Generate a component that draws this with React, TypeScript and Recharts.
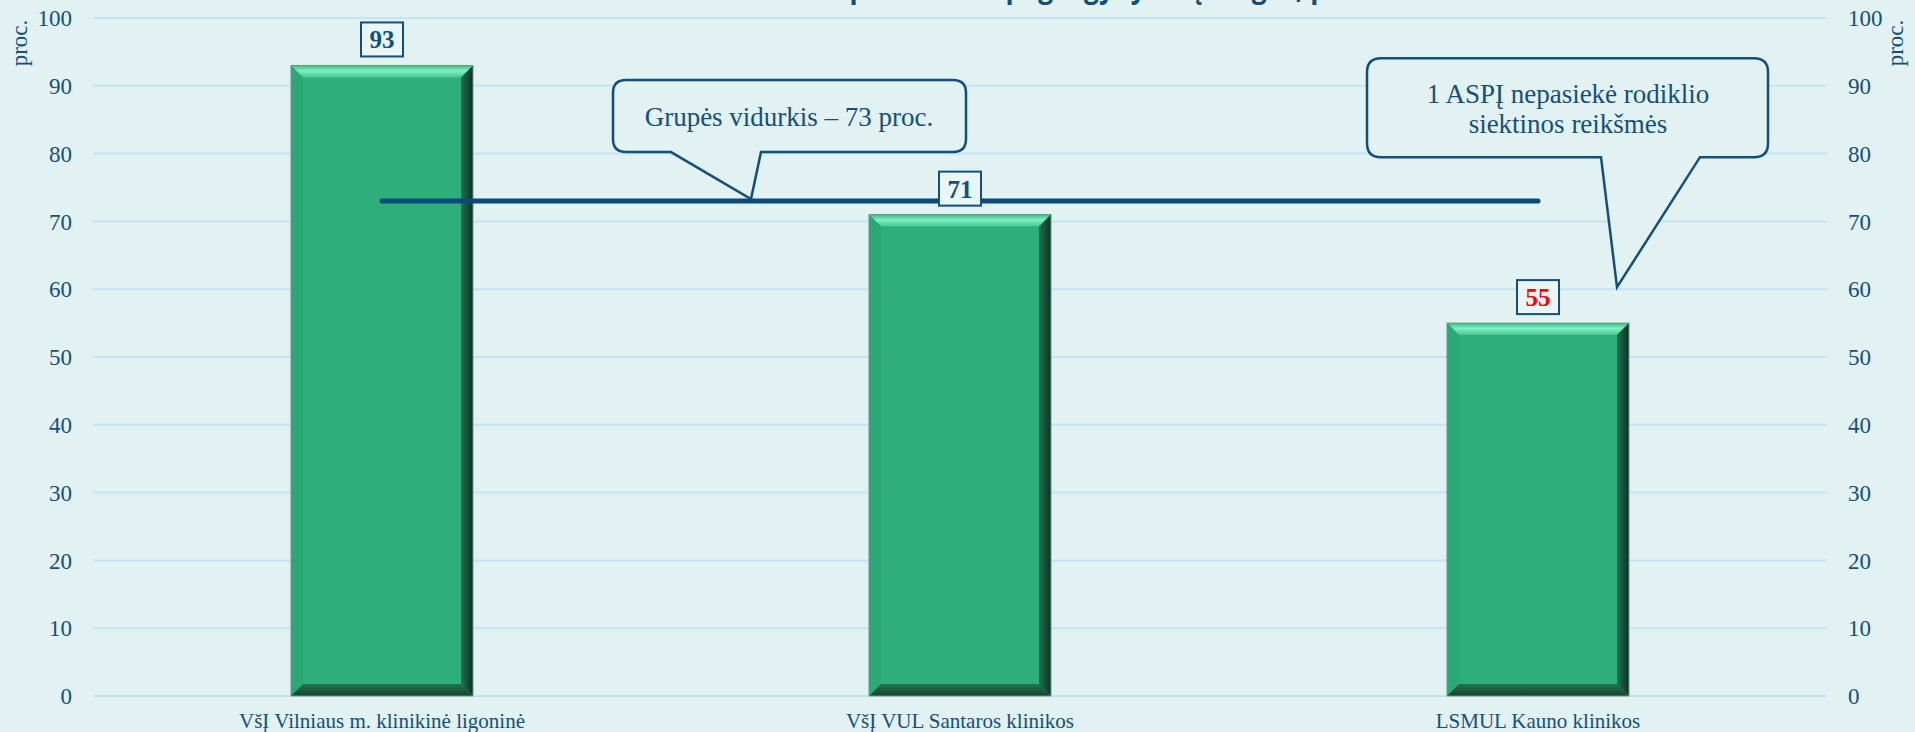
import React from 'react';
import {
  ComposedChart,
  Bar,
  Line,
  XAxis,
  YAxis,
  CartesianGrid,
  LabelList,
  ReferenceDot,
  Customized,
} from 'recharts';

const categories = [
  'VšĮ Vilniaus m. klinikinė ligoninė',
  'VšĮ VUL Santaros klinikos',
  'LSMUL Kauno klinikos',
];
const values = [93, 71, 55];
const belowTarget = [false, false, true];
const groupAverage = 73;
const targetValue = 60;
const yTicks = [0, 10, 20, 30, 40, 50, 60, 70, 80, 90, 100];

const chartTitle = 'Rodiklio siektinos reikšmės pasiekimas pagal gydymo įstaigas, proc.';
const averageText = 'Grupės vidurkis – 73 proc.';
const noteLines = ['1 ASPĮ nepasiekė rodiklio', 'siektinos reikšmės'];

const data = categories.map((name, i) => ({
  name,
  value: values[i],
  avg: groupAverage,
  low: belowTarget[i],
}));

const BG = '#E2F1F2';
const BLUE = '#134F7E';
const SERIF = '"Liberation Serif", "Times New Roman", serif';

const BevelBar = (props: any) => {
  const { x, y, width: w, height: h } = props;
  if (!h || h <= 0) return null;
  const b = Math.min(12, h / 2);
  return (
    <g>
      <rect x={x} y={y} width={w} height={h} fill="#2DAE7B" />
      <polygon points={`${x},${y} ${x + w},${y} ${x + w - b},${y + b} ${x + b},${y + b}`} fill="url(#bevelTop)" />
      <polygon points={`${x},${y} ${x + b},${y + b} ${x + b},${y + h - b} ${x},${y + h}`} fill="#2CA876" />
      <polygon points={`${x + w},${y} ${x + w},${y + h} ${x + w - b},${y + h - b} ${x + w - b},${y + b}`} fill="url(#bevelRight)" />
      <polygon points={`${x},${y + h} ${x + b},${y + h - b} ${x + w - b},${y + h - b} ${x + w},${y + h}`} fill="url(#bevelBottom)" />
      <rect x={x} y={y} width={w} height={h} fill="none" stroke="#6A9886" strokeWidth={1} />
    </g>
  );
};

const ValueBox = (props: any) => {
  const { x, y, value, index } = props;
  const bw = 42;
  const bh = 34;
  const low = data[index]?.low;
  return (
    <g>
      <rect x={x - bw / 2} y={y - 9 - bh} width={bw} height={bh} fill="#EAF5F6" stroke={BLUE} strokeWidth={2} />
      <text
        x={x}
        y={y - 9 - bh / 2 + 9}
        textAnchor="middle"
        fontFamily={SERIF}
        fontWeight="bold"
        fontSize={25}
        fill={low ? '#FF0000' : BLUE}
      >
        {value}
      </text>
    </g>
  );
};

const calloutPath = (l: number, t: number, r: number, b: number, rad: number, baseL: number, baseR: number, tipX: number, tipY: number) =>
  `M${l + rad},${t} H${r - rad} Q${r},${t} ${r},${t + rad} V${b - rad} Q${r},${b} ${r - rad},${b} H${baseR} L${tipX},${tipY} L${baseL},${b} H${l + rad} Q${l},${b} ${l},${b - rad} V${t + rad} Q${l},${t} ${l + rad},${t} Z`;

const AverageCallout = (props: any) => {
  const { cx, cy } = props;
  return (
    <g>
      <path
        d={calloutPath(cx - 347, cy - 121, cx + 6, cy - 49, 13, cx - 289, cx - 199, cx - 209, cy - 2)}
        fill={BG}
        stroke={BLUE}
        strokeWidth={2.5}
      />
      <text x={cx - 171} y={cy - 75} textAnchor="middle" fontFamily={SERIF} fontSize={27} fill={BLUE}>
        {averageText}
      </text>
    </g>
  );
};

const NoteCallout = (props: any) => {
  const { cx, cy } = props;
  return (
    <g>
      <path
        d={calloutPath(cx - 171, cy - 231, cx + 230, cy - 132, 14, cx + 63, cx + 162, cx + 79, cy - 2)}
        fill={BG}
        stroke={BLUE}
        strokeWidth={2.5}
      />
      {noteLines.map((ln, i) => (
        <text key={i} x={cx + 30} y={cy - 186 + i * 30} textAnchor="middle" fontFamily={SERIF} fontSize={27} fill={BLUE}>
          {ln}
        </text>
      ))}
    </g>
  );
};

const UnitLabel = (props: any) => {
  const { viewBox, side } = props;
  const vb = viewBox || { x: 0, y: 18, width: 93 };
  const lx = side === 'left' ? vb.x + 27 : vb.x + 76;
  const ly = vb.y + 25;
  return (
    <text x={lx} y={ly} transform={`rotate(-90 ${lx} ${ly})`} textAnchor="middle" fontFamily={SERIF} fontSize={23} fill={BLUE}>
      proc.
    </text>
  );
};

// the title sits above the top edge, only its lower part shows
const Title = () => (
  <text
    x={929}
    y={-2}
    textAnchor="middle"
    fontFamily='"Open Sans", "Noto Sans", sans-serif'
    fontWeight="bold"
    fontSize={30}
    fill={BLUE}
    textLength={895}
    lengthAdjust="spacingAndGlyphs"
  >
    {chartTitle}
  </text>
);

const tickStyle = { fill: BLUE, fontSize: 23, fontFamily: SERIF };

export default function App() {
  return (
    <div style={{ position: 'absolute', left: 0, top: 0, width: 1915, height: 732, background: BG }}>
      <ComposedChart width={1915} height={732} data={data} margin={{ top: 18, right: 0, bottom: 0, left: 0 }}>
        <defs>
          <linearGradient id="bevelTop" x1="0" y1="0" x2="0" y2="1">
            <stop offset="0%" stopColor="#3DBE8A" />
            <stop offset="45%" stopColor="#7EF0C2" />
            <stop offset="100%" stopColor="#45C690" />
          </linearGradient>
          <linearGradient id="bevelRight" x1="0" y1="0" x2="1" y2="0">
            <stop offset="0%" stopColor="#21724F" />
            <stop offset="100%" stopColor="#0D3123" />
          </linearGradient>
          <linearGradient id="bevelBottom" x1="0" y1="0" x2="0" y2="1">
            <stop offset="0%" stopColor="#22744F" />
            <stop offset="100%" stopColor="#14432E" />
          </linearGradient>
        </defs>
        <Customized component={Title} />
        <CartesianGrid yAxisId="left" vertical={false} stroke="#C4E3F5" strokeWidth={2} />
        <XAxis
          dataKey="name"
          axisLine={false}
          tickLine={false}
          interval={0}
          height={36}
          tickMargin={11}
          tick={{ ...tickStyle, fontSize: 21 }}
        />
        <YAxis
          yAxisId="left"
          orientation="left"
          width={93}
          domain={[0, 100]}
          ticks={yTicks}
          axisLine={false}
          tickLine={false}
          tickMargin={15}
          tick={tickStyle}
          label={<UnitLabel side="left" />}
        />
        <YAxis
          yAxisId="right"
          orientation="right"
          width={88}
          domain={[0, 100]}
          ticks={yTicks}
          axisLine={false}
          tickLine={false}
          tickMargin={15}
          tick={tickStyle}
          label={<UnitLabel side="right" />}
        />
        <Bar yAxisId="left" dataKey="value" barSize={182} shape={BevelBar} isAnimationActive={false} />
        <Line
          yAxisId="left"
          dataKey="avg"
          stroke="#0B4A7B"
          strokeWidth={5}
          strokeLinecap="round"
          dot={false}
          activeDot={false}
          isAnimationActive={false}
        />
        <Line
          yAxisId="right"
          dataKey="value"
          stroke="none"
          dot={false}
          activeDot={false}
          legendType="none"
          isAnimationActive={false}
        >
          <LabelList dataKey="value" content={ValueBox} />
        </Line>
        <ReferenceDot
          yAxisId="left"
          x={categories[1]}
          y={groupAverage}
          r={0}
          ifOverflow="visible"
          shape={AverageCallout}
        />
        <ReferenceDot
          yAxisId="left"
          x={categories[2]}
          y={targetValue}
          r={0}
          ifOverflow="visible"
          shape={NoteCallout}
        />
      </ComposedChart>
    </div>
  );
}
